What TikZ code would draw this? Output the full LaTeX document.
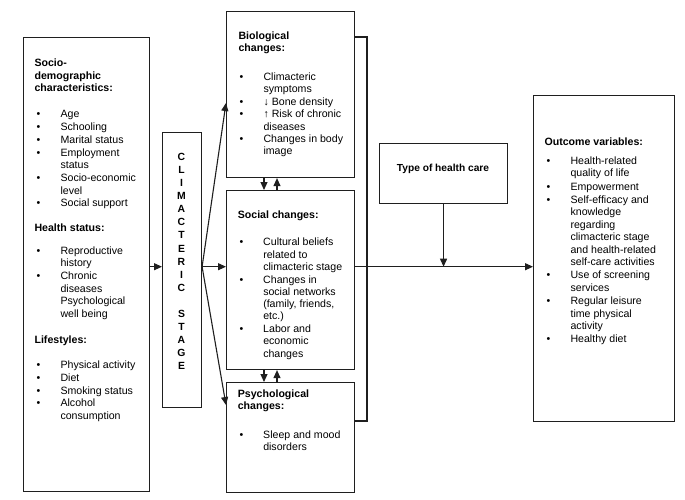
\documentclass[tikz,border=0pt]{standalone}
\usepackage{fontspec}
\setmainfont{Liberation Sans}
\usetikzlibrary{arrows.meta}
\newlength\bw \newlength\bo
\newcommand\bi[1]{\par\hangindent=\bw\hangafter=1\noindent\makebox[\bw][l]{\hspace{\bo}\textbullet}#1}
\newcommand\gp[1]{\par\vspace{#1}}
\newcommand\hd[1]{\par\noindent\textbf{#1}}
\newcommand\txt[5]{\begin{minipage}[t]{200pt}\fontsize{10.6}{#1}\selectfont\parskip=#2\relax\setlength\bw{#3}\setlength\bo{#4}#5\end{minipage}}
\begin{document}
\begin{tikzpicture}[x=1pt,y=-1pt,line width=1.1pt,
  box/.style={draw=black!88,anchor=north west,inner sep=0pt},
  arr/.style={draw=black!88,-{Triangle[length=8pt,width=7pt]}},
  lbl/.style={anchor=base west,inner sep=0pt}]
\useasboundingbox (0,0) rectangle (685,499);
\fill[white] (0,0) rectangle (685,499);
% boxes
\node[box,minimum width=126pt,minimum height=454pt] (L) at (23,37) {};
\node[box,minimum width=39pt,minimum height=275pt] (C) at (162,132) {};
\node[box,minimum width=128pt,minimum height=166pt] (B) at (226,11) {};
\node[box,minimum width=128pt,minimum height=179pt] (S) at (226,190) {};
\node[box,minimum width=128pt,minimum height=109.5pt] (P) at (226,382) {};
\node[box,minimum width=128pt,minimum height=60pt] (H) at (379,143) {};
\node[box,minimum width=141pt,minimum height=326pt] (O) at (533,95) {};
% texts
\node[lbl] (Lt) at (34,66.8) {\txt{12.5pt}{0.3pt}{26pt}{2pt}{%
\hd{Socio-\\demographic\\characteristics:}\gp{13.2pt}%
\bi{Age}\bi{Schooling}\bi{Marital status}\bi{Employment\\status}\bi{Socio-economic\\level}\bi{Social support}\gp{12.2pt}%
\hd{Health status:}\gp{9.6pt}%
\bi{Reproductive\\history}\bi{Chronic\\diseases\\Psychological\\well being}\gp{13.7pt}%
\hd{Lifestyles:}\gp{12.2pt}%
\bi{Physical activity}\bi{Diet}\bi{Smoking status}\bi{Alcohol\\consumption}}};
\node[lbl] (Bt) at (238,39.5) {\txt{12.3pt}{0.3pt}{25pt}{1pt}{%
\hd{Biological\\changes:}\gp{15.8pt}%
\bi{Climacteric\\symptoms}\bi{↓ Bone density}\bi{↑ Risk of chronic\\diseases}\bi{Changes in body\\image}}};
\node[lbl] (St) at (237.3,218.5) {\txt{12.3pt}{0.3pt}{25.4pt}{1.7pt}{%
\hd{Social changes:}\gp{14.7pt}%
\bi{Cultural beliefs\\related to\\climacteric stage}\bi{Changes in\\social networks\\(family, friends,\\etc.)}\bi{Labor and\\economic\\changes}}};
\node[lbl] (Pt) at (237.3,397.5) {\txt{12.3pt}{0.3pt}{25.4pt}{1.7pt}{%
\hd{Psychological\\changes:}\gp{16.1pt}%
\bi{Sleep and mood\\disorders}}};
\node[lbl] (Ot) at (544,145.2) {\txt{12.4pt}{1pt}{26pt}{2pt}{%
\hd{Outcome variables:}\gp{5.6pt}%
\bi{Health-related\\quality of life}\bi{Empowerment}\bi{Self-efficacy and\\knowledge\\regarding\\climacteric stage\\and health-related\\self-care activities}\bi{Use of screening\\services}\bi{Regular leisure\\time physical\\activity}\bi{Healthy diet}}};
\node[anchor=base,inner sep=0pt] (Ct) at (181.5,160.3) {\parbox[t]{30pt}{\centering\fontsize{10.4}{13.1}\selectfont\bfseries\parskip=0pt C\\L\\I\\M\\A\\C\\T\\E\\R\\I\\C\\[13.1pt]S\\T\\A\\G\\E}};
\node[anchor=base,inner sep=0pt] (Ht) at (443,171.5) {\fontsize{10.2}{12}\selectfont\bfseries Type of health care};
% connectors
\coordinate (m) at (0,266.7);
\coordinate (ybt) at (0,103);
\coordinate (ypp) at (0,405);
\coordinate (xd) at (264,0);
\coordinate (xu) at (277,0);
\coordinate (br1) at (367,37);
\coordinate (br2) at (367,421);
\draw[arr] (L.east |- m) -- (C.west |- m);
\coordinate (cf) at (C.east |- m);
\draw[arr] (cf) -- (B.west |- ybt);
\draw[arr] (cf) -- (S.west |- m);
\draw[arr] (cf) -- (P.west |- ypp);
\draw[arr] (B.south -| xd) -- (S.north -| xd);
\draw[arr] (S.north -| xu) -- (B.south -| xu);
\draw[arr] (S.south -| xd) -- (P.north -| xd);
\draw[arr] (P.north -| xu) -- (S.south -| xu);
\draw[draw=black!88] (B.east |- br1) -- (br1) -- (br2) -- (P.east |- br2);
\draw[arr] (S.east |- m) -- (O.west |- m);
\draw[arr] (H.south) -- (H.south |- m);
\end{tikzpicture}
\end{document}
